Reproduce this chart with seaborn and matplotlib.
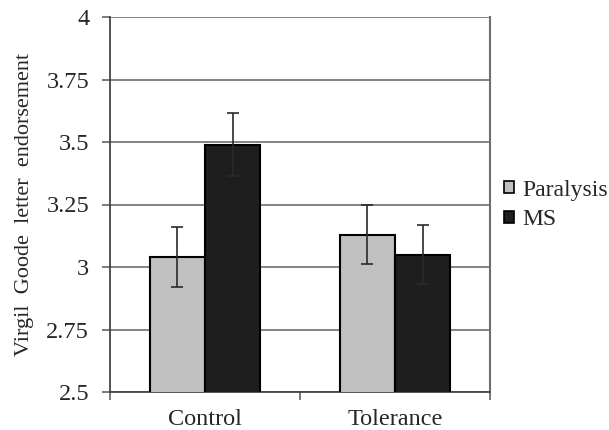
import matplotlib
matplotlib.use("Agg")
import matplotlib.pyplot as plt
import seaborn as sns
import pandas as pd
from matplotlib.patches import Patch

conditions = ["Control", "Tolerance"]
groups = ["Paralysis", "MS"]
paralysis_vals = [3.04, 3.13]
ms_vals = [3.49, 3.05]
paralysis_err = [0.12, 0.118]
ms_err = [0.125, 0.118]
yticks = [2.5, 2.75, 3.0, 3.25, 3.5, 3.75, 4.0]
ytick_labels = ["2.5", "2.75", "3", "3.25", "3.5", "3.75", "4"]
colors = {"Paralysis": "#c0c0c0", "MS": "#1e1e1e"}

df = pd.DataFrame({
    "condition": conditions * 2,
    "group": [groups[0]] * 2 + [groups[1]] * 2,
    "value": paralysis_vals + ms_vals,
    "err": paralysis_err + ms_err,
})

sns.set_style("white")
plt.rcParams["font.family"] = ["Liberation Serif", "DejaVu Serif"]

fig = plt.figure(figsize=(6.09, 4.30), dpi=100)
ax = fig.add_axes([110 / 609, 1 - 392 / 430, 380 / 609, 375 / 430])

sns.barplot(data=df, x="condition", y="value", hue="group", order=conditions,
            hue_order=groups, palette=colors, width=0.58, errorbar=None,
            edgecolor="black", linewidth=1.5, ax=ax, legend=False, zorder=3)

# error bars from bar patches
for gi, g in enumerate(groups):
    cont = ax.containers[gi]
    sub = df[df["group"] == g].set_index("condition").loc[conditions]
    xs = [p.get_x() + p.get_width() / 2 for p in cont.patches]
    ax.errorbar(xs, sub["value"].values, yerr=sub["err"].values, fmt="none",
                ecolor="#2a2a2a", elinewidth=1.2, capsize=4, capthick=1.2, zorder=4)

ax.set_ylim(2.5, 4.0)
ax.set_xlim(-0.5, 1.5)
ax.set_yticks(yticks)
ax.set_yticklabels(ytick_labels, fontsize=17.5)
ax.yaxis.grid(True, color="#6e6e6e", linewidth=1.2, zorder=0)
ax.set_axisbelow(True)

ax.set_xticks([-0.5, 0.5, 1.5])
ax.set_xticklabels(["", "", ""])
ax.set_xticks([0, 1], minor=True)
ax.set_xticklabels(conditions, minor=True, fontsize=17.5)
ax.tick_params(axis="x", which="major", direction="out", length=6, width=1.1,
               color="#555555", bottom=True)
ax.tick_params(axis="x", which="minor", length=0, pad=12)
ax.tick_params(axis="y", which="major", direction="out", length=6, width=1.1,
               color="#555555", left=True, pad=9)

ax.set_xlabel("")
ax.set_ylabel("Virgil  Goode  letter  endorsement", fontsize=16, labelpad=9)

for s in ["left", "bottom"]:
    ax.spines[s].set_color("#444444")
    ax.spines[s].set_linewidth(1.3)
ax.spines["right"].set_color("#6e6e6e")
ax.spines["right"].set_linewidth(1.5)
ax.spines["top"].set_visible(False)

handles = [Patch(facecolor=colors[g], edgecolor="black", linewidth=1.2, label=g) for g in groups]
fig.legend(handles=handles, loc="center left", bbox_to_anchor=(504 / 609, 1 - 205 / 430),
           frameon=False, fontsize=17, handlelength=0.42, handleheight=0.42,
           handletextpad=0.35, labelspacing=0.38, borderaxespad=0, borderpad=0)

fig.savefig("out.png", dpi=100)
